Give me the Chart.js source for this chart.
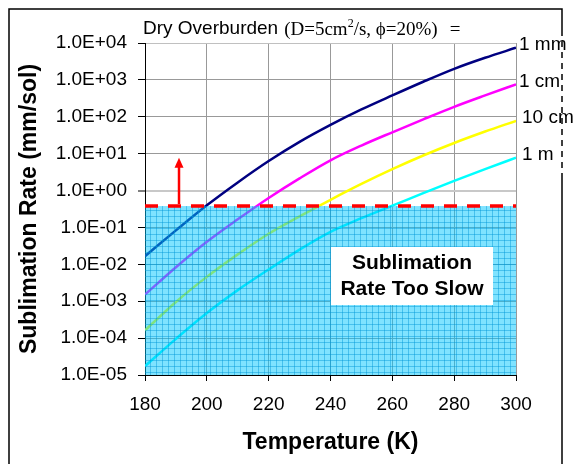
<!DOCTYPE html>
<html><head><meta charset="utf-8">
<script src="https://cdn.jsdelivr.net/npm/chart.js@4.4.1/dist/chart.umd.min.js"></script>
<style>html,body{margin:0;background:#fff}#wrap{width:584px;height:464px}</style>
</head><body><div id="wrap"><canvas id="chart"></canvas></div>
<script>
// sublimation rate vs temperature for four overburden depths
const temps = [180,190,200,210,220,230,240,250,260,270,280,290,300];
const rate1mm  = [0.0166,0.0832,0.398,1.66,6.31,20.9,60.3,158,380,891,1995,3981,7413];
const rate1cm  = [0.00151,0.00832,0.0407,0.166,0.631,2.14,6.61,16.6,38.0,85.1,186,380,759];
const rate10cm = [1.62e-4,9.55e-4,4.57e-3,0.0186,0.0676,0.200,0.562,1.51,3.80,8.91,19.5,39.8,77.6];
const rate1m   = [1.74e-5,9.55e-5,4.79e-4,2.00e-3,7.24e-3,0.0251,0.0759,0.178,0.389,0.851,1.82,3.80,7.76];
const depthLabels = ['1 mm','1 cm','10 cm','1 m'];
const lineColors = ['#000080','#ff00ff','#ffff00','#00ffff'];
const slowLimit = 0.38;          // below this the rate is too slow
const arrowTemp = 191, arrowTip = 7.8;
const xTicks = [180,200,220,240,260,280,300];
const yTicks = [1e-5,1e-4,1e-3,1e-2,1e-1,1,1e1,1e2,1e3,1e4];
const yTickLabels = ['1.0E-05','1.0E-04','1.0E-03','1.0E-02','1.0E-01','1.0E+00','1.0E+01','1.0E+02','1.0E+03','1.0E+04'];

const SANS = "'Liberation Sans', Arial, sans-serif";
const SERIF = "'Liberation Serif', 'Times New Roman', serif";
const series = [rate1mm, rate1cm, rate10cm, rate1m];

function meshPattern(ctx){
  const c = document.createElement('canvas'); c.width = 6; c.height = 6;
  const g = c.getContext('2d');
  g.fillStyle = 'rgba(0,150,215,0.45)';
  g.fillRect(0,0,6,1); g.fillRect(0,0,1,6);
  return ctx.createPattern(c, 'repeat');
}

const overlay = {
  id:'overlay',
  afterDatasetsDraw(chart){
    const {ctx, chartArea:a, scales:{x, y}} = chart;
    const yl = y.getPixelForValue(slowLimit);
    ctx.save();
    // shaded "too slow" zone sits over the curves
    ctx.fillStyle = 'rgba(0,200,255,0.5)';
    ctx.fillRect(a.left, yl, a.right - a.left, a.bottom - yl);
    ctx.fillStyle = meshPattern(ctx);
    ctx.fillRect(a.left, yl, a.right - a.left, a.bottom - yl);
    // threshold line
    ctx.strokeStyle = '#ff0000'; ctx.lineWidth = 3.5; ctx.setLineDash([13,10]);
    ctx.beginPath(); ctx.moveTo(a.left, yl); ctx.lineTo(a.right, yl); ctx.stroke();
    ctx.setLineDash([]);
    // arrow pointing up out of the slow zone
    const ax = x.getPixelForValue(arrowTemp), at = y.getPixelForValue(arrowTip);
    ctx.lineWidth = 2.5;
    ctx.beginPath(); ctx.moveTo(ax, yl - 2); ctx.lineTo(ax, at + 8); ctx.stroke();
    ctx.fillStyle = '#ff0000';
    ctx.beginPath(); ctx.moveTo(ax, at); ctx.lineTo(ax - 4.5, at + 10); ctx.lineTo(ax + 4.5, at + 10); ctx.closePath(); ctx.fill();
    // note box
    ctx.fillStyle = '#fff';
    ctx.fillRect(a.left + 186, a.top + 204, 162, 58);
    ctx.fillStyle = '#000'; ctx.font = 'bold 21px ' + SANS;
    ctx.textAlign = 'center'; ctx.textBaseline = 'middle';
    ctx.fillText('Sublimation', a.left + 267, a.top + 220);
    ctx.fillText('Rate Too Slow', a.left + 267, a.top + 246);
    // depth labels at the line ends
    ctx.textAlign = 'left'; ctx.font = '19px ' + SANS;
    series.forEach((s, i) => {
      ctx.fillText(depthLabels[i], a.right + (i > 1 ? 6 : 3), y.getPixelForValue(s[s.length - 1]) - 3);
    });
    ctx.restore();
  },
  afterDraw(chart){
    const {ctx, width, height} = chart;
    ctx.save();
    ctx.fillStyle = '#000'; ctx.textBaseline = 'middle'; ctx.textAlign = 'left';
    let tx = 143; const ty = 29;
    ctx.font = '19px ' + SANS;
    ctx.fillText('Dry Overburden', tx, ty); tx += ctx.measureText('Dry Overburden').width + 6;
    ctx.font = '19px ' + SERIF;
    ctx.fillText('(D=5cm', tx, ty + 1); tx += ctx.measureText('(D=5cm').width;
    ctx.font = '12px ' + SERIF;
    ctx.fillText('2', tx, ty - 5); tx += ctx.measureText('2').width;
    ctx.font = '19px ' + SERIF;
    ctx.fillText('/s, \u03d5=20%)', tx, ty + 1); tx += ctx.measureText('/s, \u03d5=20%)').width + 12;
    ctx.fillText('=', tx, ty + 1);
    // chart frame
    ctx.strokeStyle = '#000'; ctx.lineWidth = 1.5;
    ctx.beginPath(); ctx.moveTo(9, height); ctx.lineTo(9, 9); ctx.lineTo(562, 9); ctx.lineTo(562, 30);
    ctx.moveTo(562, 176); ctx.lineTo(562, height); ctx.stroke();
    ctx.setLineDash([6,5]);
    ctx.beginPath(); ctx.moveTo(562, 30); ctx.lineTo(562, 176); ctx.stroke();
    ctx.restore();
  }
};

new Chart(document.getElementById('chart'), {
  type:'line',
  data:{ datasets: series.map((s, i) => ({
    label: depthLabels[i], data: temps.map((t, k) => ({x:t, y:s[k]})),
    borderColor: lineColors[i], borderWidth: 2.5, pointRadius: 0, cubicInterpolationMode:'monotone', fill:false
  })) },
  options:{
    animation:false, responsive:true, maintainAspectRatio:false,
    layout:{ padding:{ top:43, right:68, left:0, bottom:0 } },
    plugins:{ legend:{ display:false }, tooltip:{ enabled:false } },
    scales:{
      x:{ type:'linear', min:180, max:300,
        afterBuildTicks: s => { s.ticks = xTicks.map(v => ({value:v})); },
        afterFit: s => { s.height = 89; },
        ticks:{ color:'#000', font:{ family:SANS, size:19 }, padding:12, maxRotation:0 },
        grid:{ color:'#999', lineWidth:1, tickColor:'#000', tickLength:6, tickWidth:1 },
        border:{ color:'#000', width:1 },
        title:{ display:true, text:'Temperature (K)', color:'#000', font:{ family:SANS, size:23, weight:'bold' }, padding:{ top:0, bottom:8 } }
      },
      y:{ type:'logarithmic', min:1e-5, max:1e4,
        afterBuildTicks: s => { s.ticks = yTicks.map(v => ({value:v})); },
        afterFit: s => { s.width = 145; },
        ticks:{ color:'#000', font:{ family:SANS, size:19 }, padding:11,
          callback: v => yTickLabels[yTicks.indexOf(v)] },
        grid:{ color: c => c.tick && c.tick.value === 1 ? '#c8c8c8' : (c.tick && c.tick.value === 1e4 ? '#c0c0c0' : '#999'),
          lineWidth: c => c.tick && c.tick.value === 1 ? 2 : 1,
          tickColor:'#000', tickLength:7, tickWidth:1 },
        border:{ color:'#000', width:1 },
        title:{ display:true, text:'Sublimation Rate (mm/sol)', color:'#000', font:{ family:SANS, size:23, weight:'bold' }, padding:{ top:16, bottom:0 } }
      }
    }
  },
  plugins:[overlay]
});
</script>
</body></html>
